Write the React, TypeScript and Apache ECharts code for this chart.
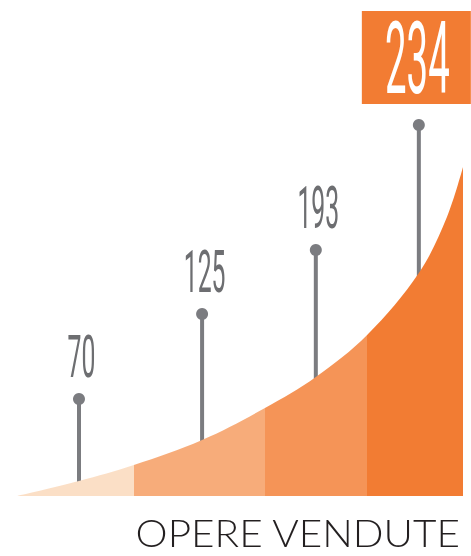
import React, { useEffect, useRef } from "react";
import * as echarts from "echarts";

// curve of the area (x in 0..100 units, height in grid units)
const curveX = [0, 13.9, 26.2, 41.5, 55.6, 67.0, 78.5, 90.1, 96.4, 100];
const curveY = [0, 15, 31, 56, 88, 119, 161, 223, 279, 329];
const bandEdges = [26.2, 55.6, 78.5];
const bandColors = ["#fbdfc6", "#f7ac7a", "#f59457", "#f27c33"];

// lollipops
const stemX = [13.9, 41.5, 67.0, 90.1];
const stemTop = [97, 182, 246, 371];
const soldValues = [70, 125, 193, 234];

const titleText = "OPERE VENDUTE";

export default function App() {
  const ref = useRef<HTMLDivElement>(null);
  useEffect(() => {
    if (!ref.current) return;
    const chart = echarts.init(ref.current, undefined, { renderer: "svg" });
    const lastIdx = stemX.length - 1;
    const option: any = {
      animation: false,
      grid: { left: 17, right: 8, top: 16, bottom: 60 },
      xAxis: { type: "value", min: 0, max: 100, show: false },
      yAxis: { type: "value", min: 0, max: 480, show: false },
      visualMap: {
        show: false,
        type: "piecewise",
        dimension: 0,
        seriesIndex: 1,
        pieces: [
          { lt: bandEdges[0], color: bandColors[0] },
          { gte: bandEdges[0], lt: bandEdges[1], color: bandColors[1] },
          { gte: bandEdges[1], lt: bandEdges[2], color: bandColors[2] },
          { gte: bandEdges[2], color: bandColors[3] },
        ],
      },
      graphic: [
        {
          type: "text",
          x: 460,
          y: 533,
          scaleX: 1.095,
          style: {
            text: titleText,
            fill: "#231f20",
            fontFamily: "Lato",
            fontWeight: 300,
            fontSize: 37,
            lineHeight: 30,
            align: "right",
            verticalAlign: "middle",
          },
        },
      ],
      series: [
        {
          type: "custom",
          z: 1,
          data: stemX.map((x, i) => [x, stemTop[i], soldValues[i]]),
          renderItem: (params: any, api: any) => {
            const x = api.value(0);
            const top = api.value(1);
            const v = api.value(2);
            const p = api.coord([x, top]);
            const b = api.coord([x, 0]);
            const gray = "#7b7c80";
            const children: any[] = [
              {
                type: "line",
                shape: { x1: p[0], y1: p[1], x2: b[0], y2: b[1] },
                style: { stroke: gray, lineWidth: 4 },
              },
              {
                type: "circle",
                shape: { cx: p[0], cy: p[1], r: 6 },
                style: { fill: gray },
              },
            ];
            if (params.dataIndex === lastIdx) {
              children.push({
                type: "rect",
                shape: { x: p[0] - 57, y: p[1] - 114, width: 109, height: 93 },
                style: { fill: "#f27c33" },
              });
              children.push({
                type: "text",
                x: p[0] - 1.5,
                y: p[1] - 66,
                scaleX: 0.38,
                style: {
                  text: String(v),
                  fill: "#ffffff",
                  fontFamily: "Roboto",
                  fontSize: 101,
                  align: "center",
                  verticalAlign: "middle",
                },
              });
            } else {
              children.push({
                type: "text",
                x: p[0] + 2.5,
                y: p[1] - 42,
                scaleX: 0.42,
                style: {
                  text: String(v),
                  fill: "#6d6e71",
                  fontFamily: "Roboto",
                  fontSize: 59,
                  align: "center",
                  verticalAlign: "middle",
                },
              });
            }
            return { type: "group", children };
          },
        },
        {
          type: "line",
          z: 3,
          smooth: 0.35,
          showSymbol: false,
          silent: true,
          lineStyle: { width: 0 },
          areaStyle: { opacity: 1 },
          data: curveX.map((x, i) => [x, curveY[i]]),
        },
      ],
    };
    chart.setOption(option);
    return () => chart.dispose();
  }, []);
  return (
    <div
      ref={ref}
      style={{ position: "fixed", left: 0, top: 0, width: 471, height: 556 }}
    />
  );
}
